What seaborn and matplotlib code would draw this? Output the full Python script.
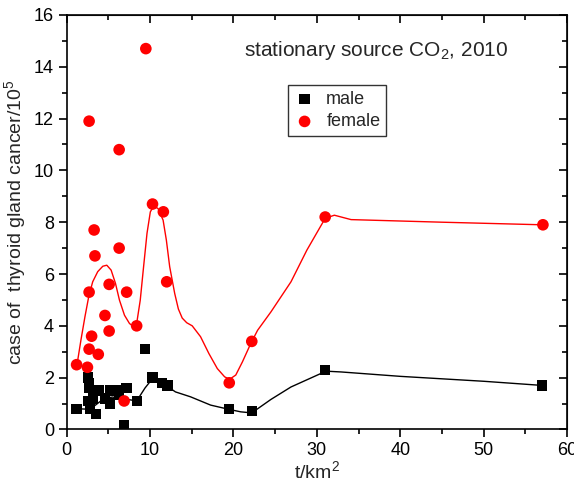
import numpy as np
import pandas as pd
import seaborn as sns
import matplotlib.pyplot as plt
from matplotlib.ticker import MultipleLocator

# measured points
male_x = [1.2, 2.6, 2.7, 2.7, 2.6, 2.8, 3.2, 3.2, 3.5, 3.9, 4.6, 5.2, 5.2, 6.3, 6.3,
          7.2, 6.9, 8.4, 9.4, 10.3, 11.4, 12.1, 19.5, 22.2, 31.0, 57.0]
male_y = [0.8, 2.0, 1.8, 1.6, 1.1, 0.8, 1.2, 1.4, 0.6, 1.5, 1.2, 1.5, 1.0, 1.5, 1.35,
          1.6, 0.15, 1.1, 3.1, 2.0, 1.8, 1.7, 0.8, 0.7, 2.3, 1.7]

female_x = [1.2, 2.5, 2.7, 2.7, 2.7, 3.0, 3.3, 3.4, 3.8, 4.6, 5.1, 5.1, 6.3, 6.3,
            7.2, 6.9, 8.4, 9.5, 10.3, 11.6, 12.0, 19.5, 22.2, 31.0, 57.1]
female_y = [2.5, 2.4, 5.3, 3.1, 11.9, 3.6, 7.7, 6.7, 2.9, 4.4, 5.6, 3.8, 7.0, 10.8,
            5.3, 1.1, 4.0, 14.7, 8.7, 8.4, 5.7, 1.8, 3.4, 8.2, 7.9]

# trend curves
male_line_x = [1.2, 2.8, 3.5, 4.5, 5.5, 6.5, 7.5, 8.4, 9.4, 10.36, 11.45, 12.05, 13.05,
               14.86, 17.27, 19.55, 20.88, 22.2, 24.5, 26.9, 31.1, 32.9, 40.0, 50.0, 57.0]
male_line_y = [0.8, 0.78, 0.95, 1.2, 1.25, 1.2, 1.15, 1.1, 1.6, 1.99, 1.78, 1.67, 1.45,
               1.26, 0.94, 0.77, 0.68, 0.64, 1.16, 1.64, 2.25, 2.22, 2.05, 1.86, 1.7]

female_line_x = [1.24, 1.72, 2.2, 2.65, 3.13, 3.73, 4.34, 4.82, 5.34, 5.86, 6.34, 6.94,
                 7.54, 7.95, 8.43, 8.83, 9.23, 9.64, 10.04, 10.43, 10.96, 11.57, 11.96,
                 12.36, 12.96, 13.4, 13.86, 14.4, 15.06, 16.06, 17.06, 18.07, 18.95,
                 19.55, 20.28, 21.08, 22.08, 22.9, 24.5, 26.9, 28.8, 31.0, 32.1, 34.1,
                 45.0, 57.0]
female_line_y = [2.48, 3.45, 4.35, 5.12, 5.7, 6.09, 6.3, 6.34, 6.15, 5.64, 4.99, 4.41,
                 4.09, 3.99, 4.15, 4.99, 6.28, 7.57, 8.4, 8.62, 8.53, 8.08, 7.31,
                 6.28, 5.25, 4.65, 4.3, 4.12, 4.0, 3.58, 2.93, 2.35, 2.03,
                 1.94, 2.1, 2.61, 3.32, 3.83, 4.54, 5.7, 6.92, 8.15, 8.27, 8.1,
                 8.0, 7.9]

sns.set_style("ticks")
plt.rcParams['font.family'] = ['Liberation Sans', 'DejaVu Sans']
plt.rcParams['mathtext.fontset'] = 'custom'
plt.rcParams['mathtext.rm'] = 'Liberation Sans'
plt.rcParams['mathtext.it'] = 'Liberation Sans'
plt.rcParams['xtick.bottom'] = True
plt.rcParams['ytick.left'] = True

fig = plt.figure(figsize=(5.74, 4.82), dpi=100)
ax = fig.add_axes([0.116, 0.109, 0.872, 0.860])

sns.lineplot(x=female_line_x, y=female_line_y, sort=False, estimator=None,
             color='red', lw=1, ax=ax)
sns.lineplot(x=male_line_x, y=male_line_y, sort=False, estimator=None,
             color='black', lw=1, ax=ax)
sns.scatterplot(x=male_x, y=male_y, marker='s', s=55, color='black',
                edgecolor='none', label='male', ax=ax, zorder=3)
sns.scatterplot(x=female_x, y=female_y, marker='o', s=70, color='red',
                edgecolor='none', label='female', ax=ax, zorder=3)

ax.set_xlim(0, 60)
ax.set_ylim(0, 16)
ax.xaxis.set_major_locator(MultipleLocator(10))
ax.xaxis.set_minor_locator(MultipleLocator(5))
ax.yaxis.set_major_locator(MultipleLocator(2))
ax.yaxis.set_minor_locator(MultipleLocator(1))
ax.tick_params(which='major', bottom=True, left=True, direction='out', length=6,
               width=1.2, labelsize=13, colors='black', pad=3)
ax.tick_params(which='minor', bottom=True, left=True, direction='out', length=3.5,
               width=1.2, colors='black')
for s in ax.spines.values():
    s.set_visible(True)
    s.set_linewidth(1.2)
    s.set_color('black')

top = ax.secondary_xaxis('top')
top.xaxis.set_major_locator(MultipleLocator(10))
top.xaxis.set_minor_locator(MultipleLocator(5))
top.tick_params(which='major', top=True, direction='in', length=6, width=1.2,
                labeltop=False, colors='black')
top.tick_params(which='minor', top=True, direction='in', length=3.5, width=1.2,
                colors='black')
right = ax.secondary_yaxis('right')
right.yaxis.set_major_locator(MultipleLocator(2))
right.yaxis.set_minor_locator(MultipleLocator(1))
right.tick_params(which='major', right=True, direction='in', length=6, width=1.2,
                  labelright=False, colors='black')
right.tick_params(which='minor', right=True, direction='in', length=3.5, width=1.2,
                  colors='black')

ax.set_xlabel('t/km$^2$', fontsize=14, labelpad=1)
ax.set_ylabel('case of  thyroid gland cancer/10$^5$', fontsize=14, labelpad=4)

ax.text(0.355, 0.915, 'stationary source CO$_2$, 2010', transform=ax.transAxes,
        fontsize=15, va='center', ha='left')

leg = ax.legend(loc='upper left', bbox_to_anchor=(0.425, 0.852), fontsize=13,
                frameon=True, fancybox=False, edgecolor='black', handletextpad=0.6,
                borderpad=0.3, labelspacing=0.3, handlelength=1.2)
leg.get_frame().set_linewidth(1)

fig.savefig('out.png', dpi=100)
